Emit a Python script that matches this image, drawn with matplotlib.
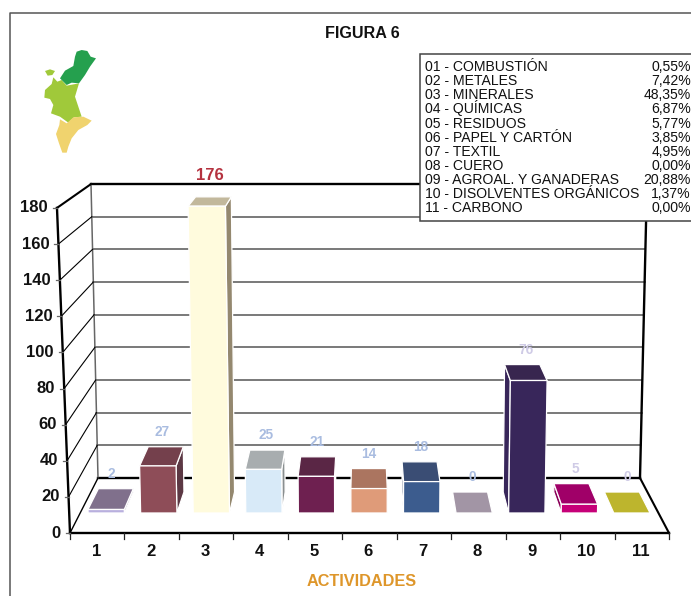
import matplotlib
matplotlib.use("Agg")
import matplotlib.pyplot as plt
from matplotlib.patches import Polygon, Rectangle

plt.rcParams['font.family'] = ['Liberation Sans', 'DejaVu Sans']

# ---- data ----
categories = ['1', '2', '3', '4', '5', '6', '7', '8', '9', '10', '11']
values = [2, 27, 176, 25, 21, 14, 18, 0, 76, 5, 0]
y_ticks = [0, 20, 40, 60, 80, 100, 120, 140, 160, 180]
legend_names = ['01 - COMBUSTIÓN', '02 - METALES', '03 - MINERALES', '04 - QUÍMICAS',
                '05 - RESIDUOS', '06 - PAPEL Y CARTÓN', '07 - TEXTIL', '08 - CUERO',
                '09 - AGROAL. Y GANADERAS', '10 - DISOLVENTES ORGÁNICOS', '11 - CARBONO']
legend_pct = ['0,55%', '7,42%', '48,35%', '6,87%', '5,77%', '3,85%', '4,95%', '0,00%',
              '20,88%', '1,37%', '0,00%']
front_colors = ['#B9B0DE', '#8E4D58', '#FFFBDD', '#D8EAF8', '#6E2050', '#DF9B79',
                '#3C5C8E', '#A295A5', '#38265A', '#C60078', '#BDB52D']
top_colors = ['#80708C', '#74404C', '#C2B89C', '#A8ADAF', '#5A2645', '#AB7560',
              '#3A4D74', '#A295A5', '#38264F', '#A00068', '#BDB52D']
side_colors = ['#6A5D78', '#5C3844', '#94886F', '#8A8F90', '#4A2038', '#8F6050',
               '#33446A', '#A295A5', '#38265A', '#8A0058', '#BDB52D']
label_colors = ['#A9BCE0', '#A9BCE0', '#B5323F', '#A9BCE0', '#A9BCE0', '#A9BCE0',
                '#A9BCE0', '#A9BCE0', '#CFCBE6', '#CFCBE6', '#CFCBE6']

# ---- pseudo-3D scale: u = position along x (0..n), v = value, t = depth (0 front, 1 back) ----
N = len(categories)
BAR_SPREAD = 0.8


def proj(u, v, t, spread=1.0):
    xl = 70 + 28 * t
    xr = 669 - 29 * t
    x = xl + (xr - xl) * u / N
    k = (0.000241 + (0.000143 - 0.000241) * t) * spread
    x += (x - 370) * k * v
    y = 533 - 55 * t - (1.806 - 0.173 * t) * v
    return x, y


fig = plt.figure(figsize=(6.91, 5.96), dpi=100)
ax = fig.add_axes([0, 0, 1, 1])
ax.set_xlim(0, 691)
ax.set_ylim(596, 0)
ax.axis('off')


def seg(p, q, color='black', lw=1.0, z=2):
    ax.plot([p[0], q[0]], [p[1], q[1]], color=color, lw=lw, zorder=z, solid_capstyle='projecting')


# outer frame
ax.plot([10, 10, 691], [596, 13, 13], color='#555555', lw=1.1, zorder=1)

# back wall grid
for v in y_ticks[1:-1]:
    seg(proj(0, v, 1), proj(N, v, 1), color='#555555', lw=1.1)
seg(proj(0, 180, 1), proj(N, 180, 1), lw=1.7)
seg(proj(0, 0, 1), proj(N, 0, 1), lw=1.7)
seg(proj(0, 0, 1), proj(0, 180, 1), color='#666666', lw=1.1)
seg(proj(N, 0, 1), proj(N, 180, 1), lw=1.7)

# left wall
for v in y_ticks[1:-1]:
    seg(proj(0, v, 0), proj(0, v, 1), lw=0.8)
seg(proj(0, 180, 0), proj(0, 180, 1), lw=1.5)
seg(proj(0, 0, 0), proj(0, 0, 1), lw=1.0)
seg(proj(0, 0, 0), proj(0, 180, 0), lw=1.7)

# floor
seg(proj(0, 0, 0), proj(N, 0, 0), lw=1.7)
seg(proj(N, 0, 0), proj(N, 0, 1), lw=1.5)

# ticks
for i in range(N + 1):
    x, y = proj(i, 0, 0)
    seg((x, y), (x, y + 6), color='#222222', lw=0.9)
for v in y_ticks:
    x, y = proj(0, v, 0)
    seg((x - 4, y), (x, y), color='#666666', lw=0.9)
    ax.text(x - 9, y, str(v), ha='right', va='center', fontsize=12, fontweight='bold', color='#111111')
for i, c in enumerate(categories):
    x, y = proj(i + 0.5, 0, 0)
    ax.text(x - 1, y + 19, c, ha='center', va='center', fontsize=12, fontweight='bold', color='#111111')

# bars
T0, T1 = 0.364, 0.745
EDGE = dict(edgecolor='white', linewidth=0.9, joinstyle='round')
for i, val in enumerate(values):
    u0, u1 = i + 0.15, i + 0.84
    fb, fbr = proj(u0, 0, T0, BAR_SPREAD), proj(u1, 0, T0, BAR_SPREAD)
    ft, ftr = proj(u0, val, T0, BAR_SPREAD), proj(u1, val, T0, BAR_SPREAD)
    bb, bbr = proj(u0, 0, T1, BAR_SPREAD), proj(u1, 0, T1, BAR_SPREAD)
    bt, btr = proj(u0, val, T1, BAR_SPREAD), proj(u1, val, T1, BAR_SPREAD)
    if val > 0:
        if btr[0] > ftr[0]:
            ax.add_patch(Polygon([fbr, ftr, btr, bbr], facecolor=side_colors[i], zorder=3, **EDGE))
        if bt[0] < ft[0]:
            ax.add_patch(Polygon([fb, ft, bt, bb], facecolor=side_colors[i], zorder=3, **EDGE))
    ax.add_patch(Polygon([ft, ftr, btr, bt], facecolor=top_colors[i], zorder=4, **EDGE))
    if val > 0:
        ax.add_patch(Polygon([fb, fbr, ftr, ft], facecolor=front_colors[i], zorder=5, **EDGE))
    lx, _ = proj(i + 0.5, val, 0.55, BAR_SPREAD)
    _, ly = proj(i + 0.5, val, T1)
    big = val == max(values)
    ax.text(lx, ly - (21 if big else 15), str(val), ha='center', va='center',
            fontsize=12 if big else 9.8, fontweight='bold', color=label_colors[i], zorder=6)

# legend box
ax.add_patch(Rectangle((420, 54), 280, 167, facecolor='white', edgecolor='#444444', lw=1.1, zorder=7))
for i, (n, p) in enumerate(zip(legend_names, legend_pct)):
    y = 71 + i * 14.15
    ax.text(425, y, n, ha='left', va='baseline', fontsize=10.05, color='#111111', zorder=8)
    ax.text(691, y, p, ha='right', va='baseline', fontsize=10.05, color='#111111', zorder=8)

# titles
ax.text(362, 33, 'FIGURA 6', ha='center', va='center', fontsize=11.6, fontweight='bold', color='#111111')
ax.text(362, 582, 'ACTIVIDADES', ha='center', va='center', fontsize=11.7, fontweight='bold', color='#DE962A')


# locator map (illustration)
def mp(points):
    return [(a / 3, b / 3) for a, b in points]


region_green = [(230, 155), (245, 150), (262, 153), (272, 170), (288, 175), (270, 200), (255, 225), (237, 250),
                (215, 248), (200, 255), (180, 235), (195, 212), (220, 198), (225, 170)]
region_islet = [(135, 213), (150, 208), (165, 213), (157, 225), (143, 227)]
region_lime = [(160, 232), (172, 245), (185, 240), (200, 257), (237, 250), (225, 290), (235, 320), (245, 350),
               (222, 352), (205, 368), (180, 350), (153, 340), (160, 315), (150, 297), (133, 293), (135, 270),
               (155, 252)]
region_sand = [(180, 358), (200, 370), (220, 352), (250, 350), (275, 362), (262, 375), (235, 390), (215, 415),
               (205, 440), (200, 458), (187, 458), (177, 430), (168, 402), (178, 375)]
for pts, col, z in [(region_lime, '#A0C93A', 2), (region_islet, '#A0C93A', 2), (region_green, '#25A04E', 3),
                    (region_sand, '#F0D36E', 3)]:
    ax.add_patch(Polygon(mp(pts), facecolor=col, edgecolor='none', zorder=z))

fig.savefig('out.png', dpi=100)
